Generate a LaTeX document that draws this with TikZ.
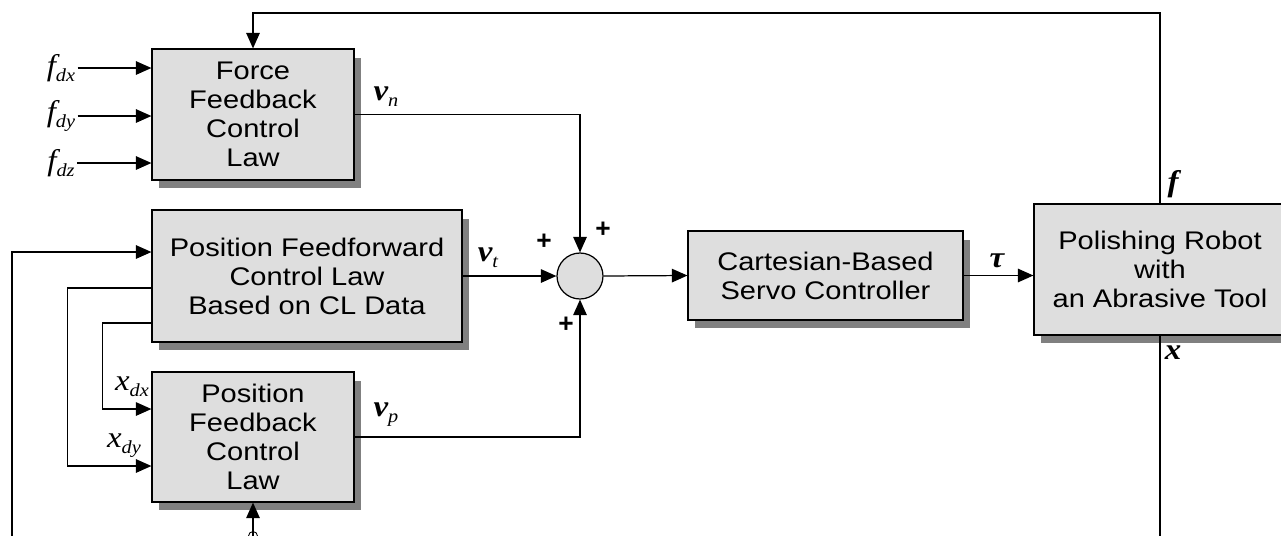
\documentclass[tikz,border=0pt]{standalone}
\usepackage{fontspec}
\setmainfont{Liberation Sans}
\newfontfamily\blockfont[FakeStretch=1.14]{Liberation Sans}
\newfontfamily\tms[FakeStretch=1.1]{Liberation Serif}
\usepackage{tikz}
\usetikzlibrary{arrows.meta,shapes,shadows}

\newcommand{\sig}[2]{{\tms\fontsize{17}{17}\selectfont\itshape #1\raisebox{-0.45ex}{\fontsize{10.5}{10.5}\selectfont #2}}}
\newcommand{\bsig}[2]{{\tms\fontsize{17}{17}\selectfont\bfseries\itshape #1\raisebox{-0.45ex}{\fontsize{10.5}{10.5}\selectfont\mdseries #2}}}

\tikzset{
  block/.style={draw, fill=black!13, line width=0.7pt, align=center, inner sep=0pt,
    font=\blockfont\fontsize{14.5}{16.5}\selectfont,
    drop shadow={shadow xshift=0.14cm, shadow yshift=-0.17cm, fill=black!50, opacity=1}},
  sumnode/.style={draw, circle, fill=black!13, line width=0.7pt, minimum size=0.92cm, inner sep=0pt},
  lbl/.style={inner sep=1pt},
  plus/.style={font=\bfseries\fontsize{15}{15}\selectfont, inner sep=0pt}
}

\begin{document}
\begin{tikzpicture}[x=0.02cm, y=-0.02cm, line width=0.7pt,
    >={Triangle[length=0.31cm,width=0.27cm]}]
        \useasboundingbox (0,0) rectangle (1281,535);
        \clip (0,0) rectangle (1281,535);

        \node[block, minimum width=4.04cm, minimum height=2.62cm] (FFC) at (253,114.5) {Force\\Feedback\\Control\\Law};
        \node[block, minimum width=6.2cm, minimum height=2.64cm] (PFF) at (307,276) {Position Feedforward\\Control Law\\Based on CL Data};
        \node[block, minimum width=4.04cm, minimum height=2.6cm] (PFB) at (253,437) {Position\\Feedback\\Control\\Law};
        \node[sumnode] (sum) at (580,276) {};
        \node[block, minimum width=5.5cm, minimum height=1.78cm] (CBS) at (825.5,275.5) {Cartesian-Based\\Servo Controller};
        \node[block, minimum width=5.04cm, minimum height=2.62cm] (Rob) at (1160,269.5) {Polishing Robot\\with\\an Abrasive Tool};

        \node[lbl] (fdx) at (61,68) {\sig{f}{dx}};
        \node[lbl] (fdy) at (61,116) {\sig{f}{dy}};
        \node[lbl] (fdz) at (61,163) {\sig{f}{dz}};
        \draw[->] (fdx.east) -- (fdx.east -| FFC.west);
        \draw[->] (fdy.east) -- (fdy.east -| FFC.west);
        \draw[->] (fdz.east) -- (fdz.east -| FFC.west);

        \coordinate (top) at (1160,13);
        \draw[->] (Rob.north) -- (top) -| (FFC.north);
        \node[lbl] (f) at (1173,184) {\bsig{f}{}};

        \coordinate (xend) at (1160,545);
        \draw (Rob.south) -- (xend);
        \node[lbl] (x) at (1173,356) {\bsig{x}{}};

        \draw[->] (FFC.east) -| (sum.north);
        \node[lbl] (vn) at (386,97) {\bsig{v}{n}};
        \draw[->] (PFF.east) -- (sum.west);
        \node[lbl] (vt) at (488,258) {\bsig{v}{t}};
        \draw[->] (PFB.east) -| (sum.south);
        \node[lbl] (vp) at (386,415) {\bsig{v}{p}};

        \node[plus] (p1) at (544,242) {+};
        \node[plus] (p2) at (603,230) {+};
        \node[plus] (p3) at (566,325) {+};

        \draw[->] (sum.east) -- (CBS.west);
        \draw[->] (CBS.east) -- (CBS.east -| Rob.west);
        \node[lbl] (tau) at (997,261) {\tms\fontsize{17}{17}\selectfont\bfseries\itshape τ};

        \coordinate (xback) at (12,545);
        \draw[->] (xback) |- ([yshift=0.48cm]PFF.west);
        \draw[->] ([yshift=-0.24cm]PFF.west) -- ++(-84,0) |- ([yshift=-0.58cm]PFB.west);
        \draw[->] ([yshift=-0.94cm]PFF.west) -- ++(-49,0) |- ([yshift=0.56cm]PFB.west);
        \node[lbl] (xdx) at (132,387) {\sig{x}{dx}};
        \node[lbl] (xdy) at (124,446) {\sig{x}{dy}};

        \coordinate (pin) at (253,536);
        \draw[->] (pin) -- (PFB.south);
        \draw[line width=0.5pt] (pin) circle (0.09cm);
    \end{tikzpicture}
\end{document}
